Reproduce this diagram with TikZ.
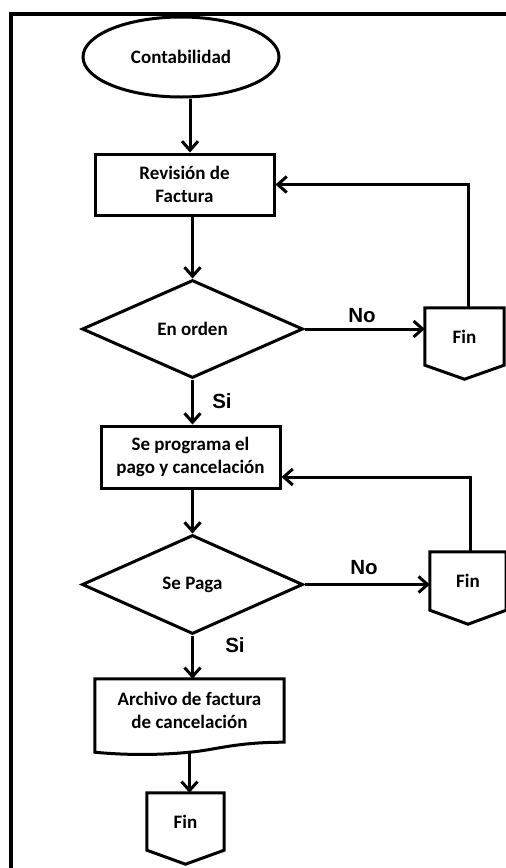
\documentclass[tikz,border=0pt]{standalone}
\usepackage{fontspec}
\setmainfont{Carlito}
\newfontfamily\labelfont{Liberation Sans}
\usetikzlibrary{shapes.geometric,arrows.meta,calc}

\begin{document}
\begin{tikzpicture}[x=1pt,y=-1pt,
  line/.style={line width=3pt, line join=miter},
  arr/.style={line, -{Straight Barb[length=9pt,width=16pt,line width=3pt]}},
  txt/.style={font=\fontsize{19}{23}\selectfont\bfseries, align=center, inner sep=0pt},
  terminal/.style={txt, draw, line width=3pt, ellipse},
  process/.style={txt, draw, line width=3pt, rectangle},
  decision/.style={txt, draw, line width=3pt, diamond},
  docbox/.style={txt, rectangle},
  offpage/.style={txt, rectangle},
  lbl/.style={font=\labelfont\bfseries\fontsize{20.5}{24}\selectfont, inner sep=0pt}
]
\useasboundingbox (0,0) rectangle (506,868);
\clip (0,0) rectangle (506,868);

% outer frame
\draw[line width=4pt] (10.7,13.7) rectangle (530,890);

% main column
\node[terminal, minimum width=196pt, minimum height=80pt] (start) at (181,57) {Contabilidad};
\node[process, minimum width=179pt, minimum height=61pt] (rev) at (184.5,184.5) {Revisión de\\Factura};
\node[decision, minimum width=221pt, minimum height=98pt] (orden) at (192.5,329) {En orden};
\node[process, minimum width=179pt, minimum height=62pt] (prog) at (190.5,457) {Se programa el\\pago y cancelación};
\node[decision, minimum width=221pt, minimum height=99pt] (paga) at (192.5,584.5) {Se Paga};
\node[docbox, minimum width=189pt, minimum height=63pt] (arch) at (189.5,710.5) {Archivo de factura\\de cancelación};
\node[offpage, minimum width=77pt, minimum height=57pt] (fin3) at (185.5,821.5) {Fin};

% side terminators
\node[offpage, minimum width=79pt, minimum height=57pt] (fin1) at (464.5,336.5) {Fin};
\node[offpage, minimum width=76pt, minimum height=58pt] (fin2) at (468,581) {Fin};

% off-page connector outlines
\foreach \n in {fin1,fin2,fin3}
  \draw[line] (\n.north west) -- (\n.north east) -- (\n.south east)
    -- ([yshift=-14pt]\n.south) -- (\n.south west) -- cycle;

% document outline with wavy bottom
\draw[line] (arch.north west) -- (arch.north east) -- (arch.south east)
  .. controls ([xshift=-50pt]arch.south east) and ([xshift=25pt,yshift=-8pt]arch.south)
  .. ([yshift=-10pt]arch.south)
  .. controls ([xshift=-30pt,yshift=-13pt]arch.south) and ([xshift=30pt,yshift=-13pt]arch.south west)
  .. ([yshift=-10pt]arch.south west) -- cycle;

% connectors
\coordinate (col) at (190,0);
\draw[arr] (start.south -| col) -- (rev.north -| col);
\draw[arr] (rev.south -| orden.north) -- (orden.north);
\draw[arr] (orden.south) -- (orden.south |- prog.north);
\draw[arr] (prog.south -| paga.north) -- (paga.north);
\draw[arr] (paga.south) -- (paga.south |- arch.north);
\draw[arr] ([yshift=-10pt]arch.south) -- (fin3.north -| arch.south);

\draw[arr] (orden.east) -- (orden.east -| fin1.west);
\draw[arr] (paga.east) -- (paga.east -| fin2.west);

\draw[arr] ([xshift=3.5pt]fin1.north) |- (rev.east);
\draw[arr] ([xshift=2pt]fin2.north) |- ([yshift=-20pt]prog.east);

% branch labels
\node[lbl] (no1) at (362,316) {No};
\node[lbl] (si1) at (222,401) {Si};
\node[lbl] (no2) at (364,568) {No};
\node[lbl] (si2) at (235,645) {Si};
\end{tikzpicture}
\end{document}
